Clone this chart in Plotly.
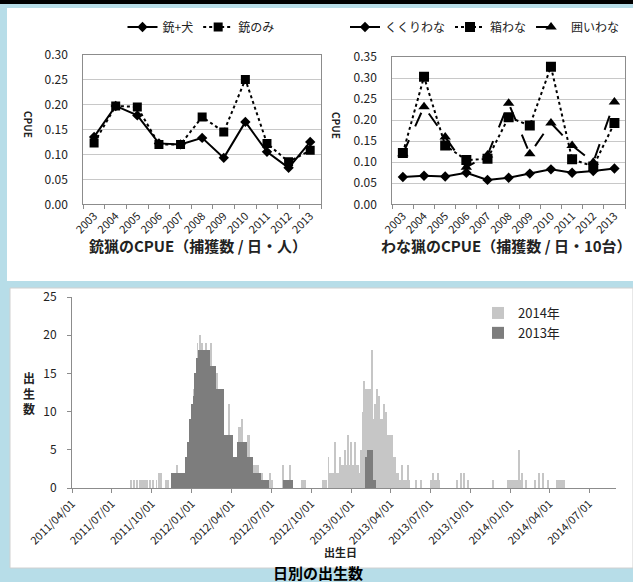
import plotly.graph_objects as go

W, H = 633, 582


def X(px):
    return px / W


def Y(py):
    return 1 - py / H


# ---------------- data: top charts ----------------
years = ['2003', '2004', '2005', '2006', '2007', '2008', '2009', '2010', '2011', '2012', '2013']
gun_dog = [0.135, 0.197, 0.178, 0.122, 0.120, 0.133, 0.093, 0.165, 0.105, 0.073, 0.125]
gun_only = [0.123, 0.197, 0.195, 0.120, 0.120, 0.175, 0.145, 0.250, 0.122, 0.085, 0.108]

snare = [0.065, 0.068, 0.066, 0.075, 0.058, 0.063, 0.073, 0.083, 0.075, 0.079, 0.085]
box_trap = [0.122, 0.303, 0.140, 0.105, 0.108, 0.207, 0.187, 0.327, 0.107, 0.090, 0.193]
corral_trap = [0.120, 0.232, 0.160, 0.088, 0.117, 0.240, 0.120, 0.193, 0.140, 0.100, 0.243]

# ---------------- data: daily births ----------------
# 2013年 (dark): start date, length in days, births per day
dark_start = ['2011-11-14', '2011-12-17', '2011-12-22', '2011-12-27', '2011-12-31', '2012-01-04',
              '2012-01-08', '2012-01-12', '2012-01-16', '2012-02-11', '2012-02-26', '2012-03-16',
              '2012-04-05', '2012-04-13', '2012-05-06', '2012-05-21', '2012-06-09', '2012-07-29',
              '2013-02-02', '2013-02-07', '2013-02-19']
dark_days = [33, 5, 5, 4, 4, 4, 4, 4, 26, 15, 19, 20, 8, 23, 15, 19, 17, 22, 5, 12, 8]
dark_births = [2, 4, 6, 9, 11, 12, 15, 17, 18, 16, 13, 7, 4, 6, 4, 2, 1, 1, 4, 5, 1]

# 2014年 (light)
light_start = ['2011-08-14', '2011-08-21', '2011-08-27', '2011-09-02', '2011-09-06', '2011-09-10',
               '2011-09-15', '2011-09-19', '2011-09-26', '2011-10-03', '2011-10-11', '2011-10-17',
               '2011-10-22', '2011-11-02', '2011-11-07',
               '2011-11-28', '2012-01-05', '2012-01-13', '2012-01-19', '2012-01-24', '2012-02-02',
               '2012-02-14', '2012-02-27', '2012-03-26', '2012-04-18', '2012-04-24', '2012-05-09',
               '2012-05-21', '2012-06-04', '2012-06-26', '2012-06-28', '2012-07-27', '2012-08-13',
               '2012-09-07', '2012-10-25',
               '2012-11-09', '2012-11-11', '2012-11-24', '2012-12-04', '2012-12-06', '2012-12-15',
               '2012-12-16', '2012-12-23', '2012-12-31', '2013-01-08', '2013-01-19', '2013-01-23',
               '2013-01-27', '2013-01-30', '2013-02-02', '2013-02-12', '2013-02-17', '2013-02-19',
               '2013-02-23', '2013-02-27', '2013-03-03', '2013-03-08', '2013-03-14', '2013-03-19',
               '2013-03-25', '2013-04-06', '2013-04-14', '2013-04-21', '2013-04-26', '2013-05-11',
               '2013-05-28', '2013-06-08', '2013-06-30', '2013-07-06', '2013-07-18', '2013-08-31',
               '2013-09-08', '2013-09-16', '2013-09-26', '2013-11-21', '2013-12-24', '2014-01-21',
               '2014-01-27', '2014-02-06', '2014-02-27', '2014-03-08', '2014-03-17', '2014-03-28',
               '2014-04-16']
light_days = [2, 2, 2, 2, 2, 2, 2, 2, 2, 2, 2, 3, 3, 2, 2,
              2, 2, 2, 3, 2, 2, 2, 3, 2, 4, 2, 4, 14, 8, 9, 2, 3, 3, 12, 13,
              2, 23, 2, 11, 2, 35, 2, 2, 2, 2, 8, 2,
              3, 3, 10, 5, 2, 4, 4, 4, 5, 6, 5, 6, 12, 8, 7, 24, 2, 2,
              3, 3, 25, 3, 3, 3, 3, 3, 3, 2, 37, 2, 3, 2, 3, 3, 3, 3, 22]
light_births = [1, 1, 1, 1, 1, 1, 1, 1, 1, 1, 1, 2, 2, 1, 1,
                3, 13, 19, 20, 19, 19, 19, 15, 11, 8, 9, 7, 3, 2, 1, 2, 3, 3, 1, 1,
                4, 2, 6, 3, 4, 3, 5, 7, 6, 6, 2, 5,
                10, 14, 13, 13, 18, 9, 11, 13, 12, 9, 11, 10, 7, 4, 2, 1, 3, 3,
                1, 1, 1, 2, 2, 1, 2, 2, 1, 1, 1, 5, 2, 1, 1, 2, 2, 1, 1]

tick_dates = ['2011-04-01', '2011-07-01', '2011-10-01', '2012-01-01', '2012-04-01', '2012-07-01',
              '2012-10-01', '2013-01-01', '2013-04-01', '2013-07-01', '2013-10-01', '2014-01-01',
              '2014-04-01', '2014-07-01']
tick_labels = ['2011/04/01', '2011/07/01', '2011/10/01', '2012/01/01', '2012/04/01', '2012/07/01',
               '2012/10/01', '2013/01/01', '2013/04/01', '2013/07/01', '2013/10/01', '2014/01/01',
               '2014/04/01', '2014/07/01']

FONT = 'Noto Sans CJK JP'
DAY = 86400000

fig = go.Figure()

# top-left
fig.add_trace(go.Scatter(x=years, y=gun_dog, name='銃+犬', mode='lines+markers',
                         line=dict(color='black', width=2),
                         marker=dict(symbol='diamond', size=8, color='black'),
                         xaxis='x', yaxis='y', legend='legend'))
fig.add_trace(go.Scatter(x=years, y=gun_only, name='銃のみ', mode='lines+markers',
                         line=dict(color='black', width=2, dash='dot'),
                         marker=dict(symbol='square', size=9, color='black'),
                         xaxis='x', yaxis='y', legend='legend'))
# top-right
fig.add_trace(go.Scatter(x=years, y=snare, name='くくりわな', mode='lines+markers',
                         line=dict(color='black', width=2),
                         marker=dict(symbol='diamond', size=8, color='black'),
                         xaxis='x2', yaxis='y2', legend='legend2'))
fig.add_trace(go.Scatter(x=years, y=box_trap, name='箱わな', mode='lines+markers',
                         line=dict(color='black', width=2, dash='dot'),
                         marker=dict(symbol='square', size=10, color='black'),
                         xaxis='x2', yaxis='y2', legend='legend2'))
fig.add_trace(go.Scatter(x=years, y=corral_trap, name='囲いわな', mode='lines+markers',
                         line=dict(color='black', width=2, dash='longdash'),
                         marker=dict(symbol='triangle-up', size=10, color='black'),
                         xaxis='x2', yaxis='y2', legend='legend2'))
# bottom
fig.add_trace(go.Bar(x=light_start, y=light_births, width=[d * DAY for d in light_days], offset=0,
                     name='2014年', marker=dict(color='#c6c6c6', line=dict(width=0)),
                     xaxis='x3', yaxis='y3', legend='legend3'))
fig.add_trace(go.Bar(x=dark_start, y=dark_births, width=[d * DAY for d in dark_days], offset=0,
                     name='2013年', marker=dict(color='#7d7d7d', line=dict(width=0)),
                     xaxis='x3', yaxis='y3', legend='legend3'))

axis_line = '#8c8c8c'
grid = '#c8c8c8'
cat_x = dict(type='category', range=[-0.5, 10.5], tickangle=-45, tickson='boundaries',
             ticks='outside', ticklen=4, tickcolor=axis_line, showline=True, linecolor=axis_line,
             mirror=True, showgrid=False, tickfont=dict(size=11, color='#222'), automargin=False)
cat_y = dict(dtick=0.05, tickformat='.2f', showgrid=True, gridcolor=grid, showline=True,
             linecolor=axis_line, mirror=True, zeroline=False, ticks='', ticklabelstandoff=12,
             tickfont=dict(size=12, color='#222'), automargin=False)

fig.update_layout(
    width=W, height=H, autosize=False,
    margin=dict(l=0, r=0, t=0, b=0, pad=0),
    paper_bgcolor='#b7dde8', plot_bgcolor='white',
    font=dict(family=FONT, color='#222'),
    barmode='overlay', bargap=0,
    xaxis=dict(cat_x, domain=[X(83.3), X(321)], anchor='y'),
    yaxis=dict(cat_y, domain=[Y(204.3), Y(54.5)], range=[0, 0.30], anchor='x'),
    xaxis2=dict(cat_x, domain=[X(392.3), X(625)], anchor='y2'),
    yaxis2=dict(cat_y, domain=[Y(204.3), Y(57)], range=[0, 0.35], anchor='x2'),
    xaxis3=dict(type='date', domain=[X(72), X(616)], anchor='y3', automargin=False,
                range=['2011-04-01', '2014-09-01'], tickvals=tick_dates, ticktext=tick_labels,
                tickangle=-45, ticks='outside', ticklen=4, tickcolor=axis_line, showline=True,
                linecolor=axis_line, showgrid=False, tickfont=dict(size=11, color='#222')),
    yaxis3=dict(domain=[Y(488), Y(297)], anchor='x3', range=[0, 25], dtick=5, ticks='outside',
                ticklen=4, tickcolor=axis_line, showline=True, linecolor=axis_line, automargin=False,
                ticklabelstandoff=8,
                showgrid=False, zeroline=False, tickfont=dict(size=12, color='#222')),
    legend=dict(orientation='h', x=X(201), y=Y(27), xanchor='center', yanchor='middle',
                bgcolor='rgba(0,0,0,0)', font=dict(size=12), itemwidth=30, borderwidth=0),
    legend2=dict(orientation='h', x=X(485), y=Y(27), xanchor='center', yanchor='middle',
                 bgcolor='rgba(0,0,0,0)', font=dict(size=12), itemwidth=30, borderwidth=0),
    legend3=dict(orientation='v', x=X(478), y=Y(298), xanchor='left', yanchor='top',
                 bgcolor='rgba(0,0,0,0)', font=dict(size=13), itemwidth=30, borderwidth=0),
    showlegend=True,
)

# background panels
fig.add_shape(type='rect', xref='paper', yref='paper', x0=0, x1=1, y0=Y(4), y1=1,
              fillcolor='black', line=dict(width=0), layer='below')
fig.add_shape(type='rect', xref='paper', yref='paper', x0=X(7), x1=1, y0=Y(281), y1=Y(8),
              fillcolor='white', line=dict(width=0), layer='below')
fig.add_shape(type='rect', xref='paper', yref='paper', x0=X(10), x1=1, y0=Y(568), y1=Y(288),
              fillcolor='white', line=dict(color='#d0d0d0', width=1), layer='below')

ann = [
    dict(x=X(29), y=Y(124), text='<b>CPUE</b>', textangle=90, font=dict(size=10)),
    dict(x=X(337), y=Y(125), text='<b>CPUE</b>', textangle=90, font=dict(size=10)),
    dict(x=X(198), y=Y(245), text='<b>銃猟のCPUE（捕獲数 / 日・人）</b>', font=dict(size=15)),
    dict(x=X(506), y=Y(245), text='<b>わな猟のCPUE（捕獲数 / 日・10台）</b>', font=dict(size=15)),
    dict(x=X(29), y=Y(393), text='<b>出<br>生<br>数</b>', font=dict(size=12)),
    dict(x=X(340), y=Y(552), text='<b>出生日</b>', font=dict(size=11)),
    dict(x=X(318), y=Y(572), text='<b>日別の出生数</b>', font=dict(size=15, color='black')),
]
for a in ann:
    fig.add_annotation(xref='paper', yref='paper', showarrow=False, xanchor='center',
                       yanchor='middle', **a)

fig.write_html('out.html', config={'displayModeBar': False},
               post_script="document.body.style.margin='0';")
